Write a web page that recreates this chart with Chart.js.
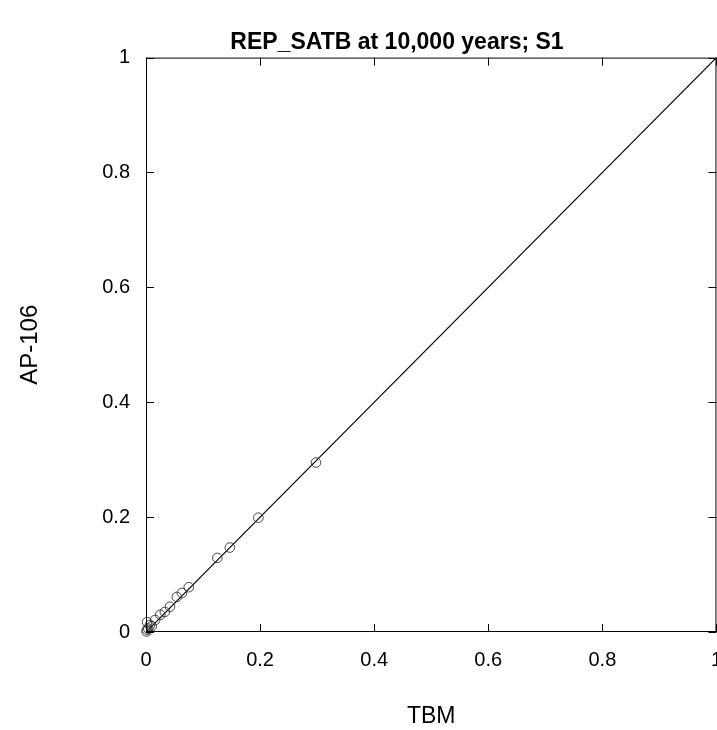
<!DOCTYPE html>
<html>
<head>
<meta charset="utf-8">
<script src="https://cdn.jsdelivr.net/npm/chart.js@4/dist/chart.umd.min.js"></script>
<style>
  html, body { margin: 0; padding: 0; background: #fff; overflow: hidden; }
  #clip { width: 717px; height: 730px; overflow: hidden; position: relative; }
  /* can grow past the window so the last x label gets cut at the edge, like the original */
  #wrap { width: 722px; height: 730px; position: absolute; left: 0; top: 0; }
</style>
</head>
<body>
<div id="clip"><div id="wrap"><canvas id="c"></canvas></div></div>
<script>
// REP_SATB at 10,000 years; S1 -- TBM vs AP-106 scatter with 1:1 line

// ---- data ----
const tbmValues   = [0.298, 0.197, 0.147, 0.125, 0.075, 0.063, 0.054, 0.042, 0.033, 0.025, 0.016, 0.007, 0.002, 0.002, 0.001, 0.004, 0.010];
const ap106Values = [0.295, 0.199, 0.147, 0.129, 0.078, 0.068, 0.061, 0.044, 0.035, 0.030, 0.021, 0.012, 0.017, 0.004, 0.001, 0.006, 0.010];
const lineX = [0, 1];
const lineY = [0, 1];
const tickValues = [0, 0.2, 0.4, 0.6, 0.8, 1];

const FONT = "'Liberation Sans', Arial, sans-serif";
const PLOT_RIGHT = 716;   // where x = 1 sits in the original

// frame + inward tick marks on all four sides
const framePlugin = {
  id: 'frame',
  afterLayout(chart) {
    // the original title sits a bit right of the page centre
    const t = chart.titleBlock;
    if (t) {
      const shift = 397 - (t.left + t.right) / 2;
      t.left += shift; t.right += shift;
    }
  },
  afterDraw(chart) {
    const { ctx, chartArea: a, scales } = chart;
    const len = 8;
    ctx.save();
    ctx.strokeStyle = '#000';
    ctx.lineWidth = 1;
    ctx.strokeRect(a.left + 0.5, a.top + 0.5, a.right - a.left - 1, a.bottom - a.top - 1);
    ctx.beginPath();
    tickValues.forEach(v => {
      const px = Math.round(scales.x.getPixelForValue(v)) + 0.5;
      const py = Math.round(scales.y.getPixelForValue(v)) + 0.5;
      ctx.moveTo(px, a.bottom); ctx.lineTo(px, a.bottom - len);
      ctx.moveTo(px, a.top);    ctx.lineTo(px, a.top + len);
      ctx.moveTo(a.left, py);   ctx.lineTo(a.left + len, py);
      ctx.moveTo(a.right, py);  ctx.lineTo(a.right - len, py);
    });
    ctx.stroke();
    ctx.restore();
  }
};

const fmt = v => (v === 0 || v === 1) ? String(v) : v.toFixed(1);

const chart = new Chart(document.getElementById('c'), {
  type: 'scatter',
  data: {
    datasets: [
      {
        label: 'points',
        data: tbmValues.map((x, i) => ({ x, y: ap106Values[i] })),
        pointStyle: 'circle',
        pointRadius: 4.8,
        pointBorderWidth: 0.9,
        pointBorderColor: '#333',
        pointBackgroundColor: 'rgba(0,0,0,0)',
        clip: false
      },
      {
        label: '1:1',
        data: lineX.map((x, i) => ({ x, y: lineY[i] })),
        showLine: true,
        borderColor: '#000',
        borderWidth: 1.2,
        pointRadius: 0
      }
    ]
  },
  options: {
    responsive: true,
    maintainAspectRatio: false,
    animation: false,
    layout: { padding: 0 },
    plugins: {
      legend: { display: false },
      tooltip: { enabled: false },
      title: {
        display: true,
        text: 'REP_SATB at 10,000 years; S1',
        color: '#000',
        font: { family: FONT, size: 23, weight: 'bold' },
        padding: { top: 29, bottom: 1 }
      }
    },
    scales: {
      x: {
        type: 'linear',
        min: 0, max: 1,
        grid: { display: false, drawTicks: false },
        border: { display: false },
        ticks: {
          stepSize: 0.2,
          padding: 16,
          color: '#000',
          font: { family: FONT, size: 20 },
          callback: v => fmt(v)
        },
        title: {
          display: true,
          text: 'TBM',
          color: '#000',
          font: { family: FONT, size: 23 },
          padding: 0
        },
        afterFit(s) { s.height = 98; }
      },
      y: {
        type: 'linear',
        min: 0, max: 1,
        grid: { display: false, drawTicks: false },
        border: { display: false },
        ticks: {
          stepSize: 0.2,
          padding: 16,
          color: '#000',
          font: { family: FONT, size: 20 },
          callback: v => fmt(v)
        },
        title: {
          display: true,
          text: 'AP-106',
          color: '#000',
          font: { family: FONT, size: 24 },
          padding: 16
        },
        afterFit(s) { s.width = 146; }
      }
    }
  },
  plugins: [framePlugin]
});

// widen the (clipped) canvas until the plot's right edge lands where the original has it
const wrap = document.getElementById('wrap');
for (let i = 0; i < 4; i++) {
  const diff = PLOT_RIGHT - chart.chartArea.right;
  if (Math.abs(diff) < 0.5) break;
  const w = Math.round(wrap.offsetWidth + diff);
  wrap.style.width = w + 'px';
  chart.resize(w, 730);
}
</script>
</body>
</html>
